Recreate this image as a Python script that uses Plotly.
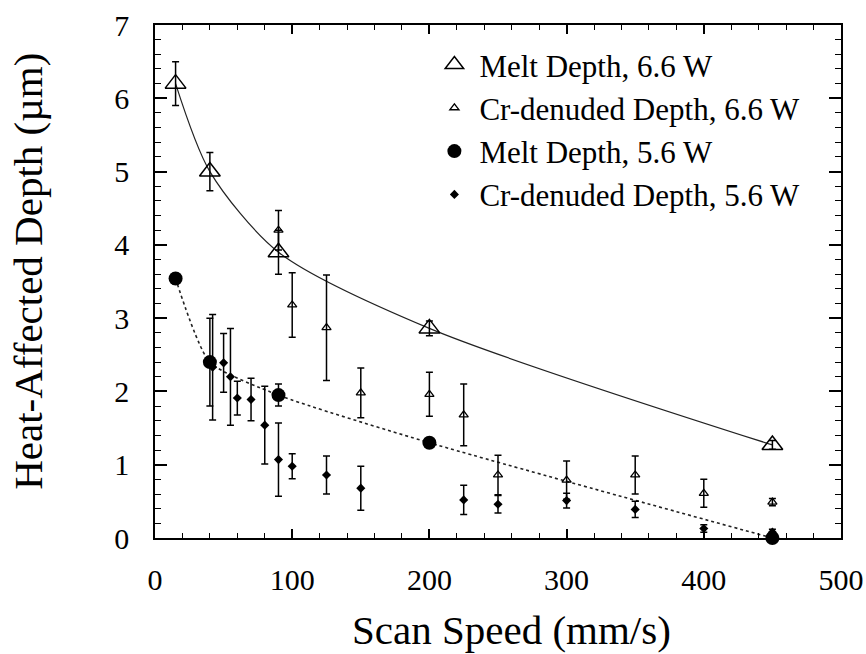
import plotly.graph_objects as go

# ---------------- data ----------------
melt66_x = [15, 40, 90, 200, 450]
melt66_y = [6.2, 5.0, 3.9, 2.86, 1.27]
melt66_err = [0.3, 0.26, 0.3, 0.1, 0.06]

cr66_x = [90, 100, 125, 150, 200, 225, 250, 300, 350, 400, 450]
cr66_y = [4.2, 3.18, 2.87, 1.98, 1.96, 1.68, 0.86, 0.79, 0.86, 0.61, 0.49]
cr66_err = [0.27, 0.44, 0.72, 0.34, 0.3, 0.42, 0.27, 0.26, 0.26, 0.19, 0.05]

melt56_x = [15, 40, 90, 200, 450]
melt56_y = [3.54, 2.4, 1.95, 1.3, 0.0]
melt56_err = [0.07, 0.6, 0.15, 0.06, 0.05]

cr56_x = [42, 50, 55, 60, 70, 80, 90, 100, 125, 150, 225, 250, 300, 350, 400, 450]
cr56_y = [2.33, 2.39, 2.2, 1.91, 1.89, 1.54, 1.07, 0.98, 0.86, 0.68, 0.52, 0.46, 0.51, 0.39, 0.13, 0.08]
cr56_err = [0.72, 0.4, 0.66, 0.23, 0.29, 0.53, 0.5, 0.17, 0.26, 0.3, 0.2, 0.12, 0.1, 0.11, 0.05, 0.04]

x_ticks = [0, 100, 200, 300, 400, 500]
y_ticks = [0, 1, 2, 3, 4, 5, 6, 7]

x_title = "Scan Speed (mm/s)"
y_title = "Heat-Affected Depth (µm)"

FONT = "Liberation Serif, Times New Roman, serif"
BLACK = "black"

fig = go.Figure()

# fit / guide lines
fig.add_trace(go.Scatter(x=melt66_x, y=melt66_y, mode="lines",
                         line=dict(color="#222", width=1.2, shape="spline", smoothing=0.8),
                         showlegend=False, hoverinfo="skip", cliponaxis=False))
fig.add_trace(go.Scatter(x=melt56_x, y=melt56_y, mode="lines",
                         line=dict(color="#222", width=1.6, dash="dot", shape="spline", smoothing=0.6),
                         showlegend=False, hoverinfo="skip", cliponaxis=False))

def err(vals):
    return dict(type="data", array=vals, visible=True, color=BLACK, thickness=1.5, width=3.5)

fig.add_trace(go.Scatter(x=melt66_x, y=melt66_y, mode="markers", name="Melt Depth, 6.6 W",
                         error_y=err(melt66_err),
                         marker=dict(symbol="triangle-up-open", size=18, color=BLACK, line=dict(width=1.5)),
                         cliponaxis=False))
fig.add_trace(go.Scatter(x=cr66_x, y=cr66_y, mode="markers", name="Cr-denuded Depth, 6.6 W",
                         error_y=err(cr66_err),
                         marker=dict(symbol="triangle-up-open", size=8, color=BLACK, line=dict(width=1.3)),
                         cliponaxis=False))
fig.add_trace(go.Scatter(x=melt56_x, y=melt56_y, mode="markers", name="Melt Depth, 5.6 W",
                         error_y=err(melt56_err),
                         marker=dict(symbol="circle", size=14, color=BLACK),
                         cliponaxis=False))
fig.add_trace(go.Scatter(x=cr56_x, y=cr56_y, mode="markers", name="Cr-denuded Depth, 5.6 W",
                         error_y=err(cr56_err),
                         marker=dict(symbol="diamond", size=7, color=BLACK),
                         cliponaxis=False))

fig.update_layout(
    width=866, height=654,
    margin=dict(l=155, r=25, t=25, b=116),
    plot_bgcolor="white", paper_bgcolor="white",
    font=dict(family=FONT, color=BLACK),
    showlegend=True,
    legend=dict(x=0.4, y=0.975, xanchor="left", yanchor="top",
                bgcolor="rgba(0,0,0,0)", borderwidth=0,
                font=dict(family=FONT, size=31, color=BLACK),
                itemwidth=40, tracegroupgap=0),
    annotations=[
        dict(text=x_title, xref="paper", yref="paper", x=0.519, y=-0.179,
             xanchor="center", yanchor="middle", showarrow=False,
             font=dict(family=FONT, size=41, color=BLACK)),
        dict(text=y_title, xref="paper", yref="paper", x=-0.185, y=0.519,
             xanchor="center", yanchor="middle", showarrow=False, textangle=-90,
             font=dict(family=FONT, size=41, color=BLACK)),
    ],
)

fig.update_xaxes(
    automargin=False,
    range=[0, 500], tickmode="array", tickvals=x_ticks, ticktext=[str(v) for v in x_ticks],
    ticks="inside", ticklen=9, tickwidth=1.5, tickcolor=BLACK,
    showline=True, linewidth=1.5, linecolor=BLACK, mirror="ticks",
    showgrid=False, zeroline=False,
    minor=dict(dtick=20, tick0=0, ticks="inside", ticklen=5, tickwidth=1.2, tickcolor=BLACK, showgrid=False),
    tickfont=dict(family=FONT, size=30, color=BLACK),
    ticklabelstandoff=14,
)
fig.update_yaxes(
    automargin=False,
    range=[0, 7], tickmode="array", tickvals=y_ticks, ticktext=[str(v) for v in y_ticks],
    ticks="inside", ticklen=12, tickwidth=1.5, tickcolor=BLACK,
    showline=True, linewidth=1.5, linecolor=BLACK, mirror="ticks",
    showgrid=False, zeroline=False,
    minor=dict(dtick=0.2, tick0=0, ticks="inside", ticklen=6, tickwidth=1.2, tickcolor=BLACK, showgrid=False),
    tickfont=dict(family=FONT, size=30, color=BLACK),
    ticklabelstandoff=18,
)

fig.write_html("out.html")
